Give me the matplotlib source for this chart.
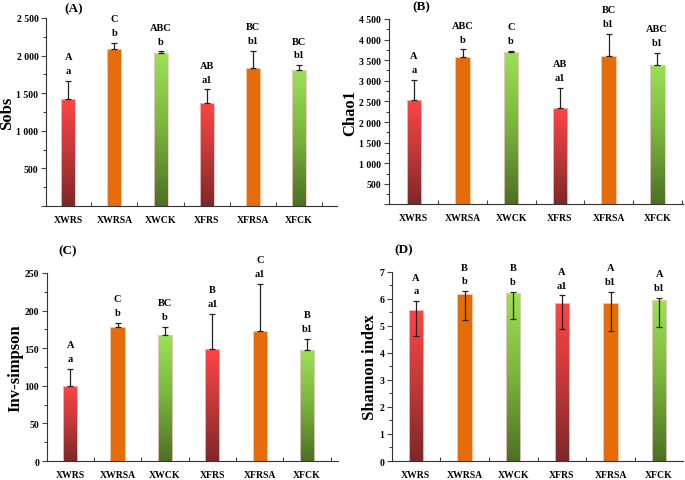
import numpy as np
import matplotlib
matplotlib.use('Agg')
import matplotlib.pyplot as plt
from matplotlib.colors import LinearSegmentedColormap
from matplotlib.ticker import FuncFormatter, MultipleLocator

plt.rcParams['font.family'] = ['Liberation Serif', 'DejaVu Serif']
plt.rcParams['font.weight'] = 'bold'

# Data
groups = ['XWRS', 'XWRSA', 'XWCK', 'XFRS', 'XFRSA', 'XFCK']

sobs = [1420, 2090, 2030, 1370, 1840, 1815]
sobs_err = [240, 80, 25, 180, 225, 55]
sobs_upper = ['A', 'C', 'ABC', 'AB', 'BC', 'BC']
sobs_lower = ['a', 'b', 'b', 'a1', 'b1', 'b1']

chao1 = [2530, 3580, 3690, 2340, 3600, 3390]
chao1_err = [500, 180, 30, 480, 530, 280]
chao1_upper = ['A', 'ABC', 'C', 'AB', 'BC', 'ABC']
chao1_lower = ['a', 'b', 'b', 'a1', 'b1', 'b1']

invsimpson = [100, 178, 167, 149, 173, 148]
invsimpson_err = [22, 6, 11, 47, 63, 14]
invsimpson_upper = ['A', 'C', 'BC', 'B', 'C', 'B']
invsimpson_lower = ['a', 'b', 'b', 'a1', 'a1', 'b1']

shannon = [5.60, 6.18, 6.22, 5.85, 5.85, 5.95]
shannon_err_low = [0.98, 0.96, 0.98, 0.98, 1.02, 0.99]
shannon_err_high = [0.31, 0.10, 0.04, 0.28, 0.40, 0.08]
shannon_upper = ['A', 'B', 'B', 'A', 'A', 'A']
shannon_lower = ['a', 'b', 'b', 'a1', 'b1', 'b1']

# Bar colours (red = RS, orange = RSA, green = CK)
red_cmap = LinearSegmentedColormap.from_list('red', ['#7d2828', '#c23838', '#ff4545'])
green_cmap = LinearSegmentedColormap.from_list('green', ['#4c7024', '#78b43c', '#9be256'])
orange = '#e46c0a'
bar_style = [red_cmap, orange, green_cmap, red_cmap, orange, green_cmap]


def space_thousands(v, pos):
    if v == 0:
        return ''
    s = '%d' % v
    if len(s) > 3:
        s = s[:-3] + ' ' + s[-3:]
    return s


def draw_panel(ax, values, err, upper, lower, ylim, major, minor, xlim, ylabel, tag,
               fmt=None, both=False):
    x = np.arange(len(groups))
    bars = ax.bar(x, values, width=0.3, color='white', edgecolor='#f4c8c8',
                  linewidth=0.6, zorder=2)
    for b, st in zip(bars, bar_style):
        if isinstance(st, str):
            b.set_facecolor(st)
            b.set_edgecolor('#f6c9a8')
        else:
            x0, y0 = b.get_x(), b.get_y()
            w, h = b.get_width(), b.get_height()
            grad = np.linspace(0, 1, 256).reshape(-1, 1)
            im = ax.imshow(grad, cmap=st, origin='lower', aspect='auto',
                           extent=[x0, x0 + w, y0, y0 + h], zorder=2)
            im.set_clip_path(b)
            b.set_facecolor('none')
            b.set_zorder(3)

    if both:
        yerr = [err[0], err[1]]
        tops = np.array(values) + np.array(err[1])
    else:
        yerr = [np.zeros(len(values)), err]
        tops = np.array(values) + np.array(err)
    ax.errorbar(x, values, yerr=yerr, fmt='none', ecolor='#222222',
                elinewidth=0.9, capsize=2, capthick=0.9, zorder=4)

    for xi, t, u, l in zip(x, tops, upper, lower):
        ax.annotate(l, (xi, t), xytext=(0, 7.5), textcoords='offset points',
                    ha='center', va='center', fontsize=7.5, fontweight='bold')
        ax.annotate(u, (xi, t), xytext=(0, 17.5), textcoords='offset points',
                    ha='center', va='center', fontsize=7.5, fontweight='bold')

    ax.set_xlim(*xlim)
    ax.set_ylim(*ylim)
    ax.yaxis.set_major_locator(MultipleLocator(major))
    ax.yaxis.set_minor_locator(MultipleLocator(minor))
    if fmt is not None:
        ax.yaxis.set_major_formatter(FuncFormatter(fmt))

    # category separator ticks on the x axis
    seps = [s for s in np.arange(0.5, 6.0, 1.0) if s < xlim[1]]
    ax.set_xticks(seps)
    ax.set_xticklabels([])
    ax.tick_params(axis='x', which='major', direction='in', length=3, width=0.8,
                   color='#444444')
    for xi, g in zip(x, groups):
        ax.annotate(g, (xi, 0), xycoords=('data', 'axes fraction'), xytext=(0, -9.5),
                    textcoords='offset points', ha='center', va='center',
                    fontsize=7, fontweight='bold')

    ax.tick_params(axis='y', which='major', direction='out', length=3.5, width=0.8,
                   labelsize=7, pad=2, color='#444444')
    ax.tick_params(axis='y', which='minor', direction='out', length=2, width=0.8,
                   color='#444444')
    for lab in ax.get_yticklabels():
        lab.set_fontweight('bold')

    ax.set_ylabel(ylabel, fontsize=12, fontweight='bold', labelpad=1)

    # Lighten borders
    ax.spines['top'].set_visible(False)
    ax.spines['right'].set_visible(False)
    ax.spines['left'].set_color('#333333')
    ax.spines['bottom'].set_color('#333333')

    ax.text(tag[1], tag[2], tag[0], transform=ax.transAxes, fontsize=9.5,
            fontweight='bold', ha='center', va='center')


fig = plt.figure(figsize=(6.85, 4.81), dpi=100)

axA = fig.add_axes([0.0672, 0.5696, 0.4248, 0.3909])
draw_panel(axA, sobs, sobs_err, sobs_upper, sobs_lower, (0, 2500), 500, 250,
           (-0.48, 5.82), 'Sobs', ('(A)', 0.095, 1.05), fmt=space_thousands)

axB = fig.add_axes([0.5679, 0.5728, 0.4292, 0.3857])
draw_panel(axB, chao1, chao1_err, chao1_upper, chao1_lower, (0, 4500), 500, 250,
           (-0.51, 5.53), 'Chao1', ('(B)', 0.11, 1.07), fmt=space_thousands)

axC = fig.add_axes([0.0686, 0.0395, 0.4248, 0.3909])
draw_panel(axC, invsimpson, invsimpson_err, invsimpson_upper, invsimpson_lower,
           (0, 250), 50, 25, (-0.49, 5.65), 'Inv-simpson', ('(C)', 0.07, 1.12))

axD = fig.add_axes([0.5723, 0.0395, 0.4248, 0.393])
draw_panel(axD, shannon, (shannon_err_low, shannon_err_high), shannon_upper,
           shannon_lower, (0, 7), 1, 0.5, (-0.49, 5.49), 'Shannon index',
           ('(D)', 0.04, 1.12), both=True)

plt.savefig('out.png', dpi=100)
